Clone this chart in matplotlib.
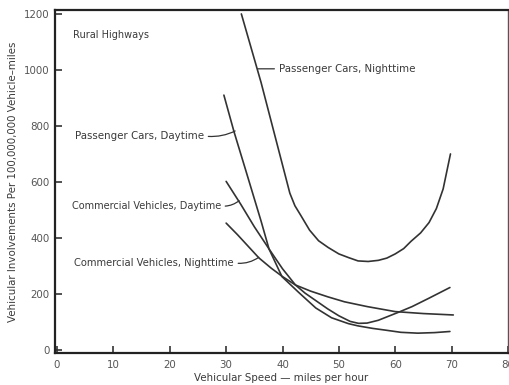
import matplotlib
matplotlib.use("Agg")
import matplotlib.pyplot as plt

plt.rcParams['font.family'] = ['DejaVu Sans']

# Vehicular involvement rate (per 100,000,000 vehicle-miles) vs travel speed (mph)
pn_speed = [32.7, 36.2, 41.3, 42.2, 43.2, 44.8, 46.4, 48.1, 50.0, 51.7, 53.4, 55.2,
            57.0, 58.5, 60.0, 61.5, 62.8, 64.5, 66.0, 67.3, 68.5, 69.8]
pn_rate = [1200, 955, 560, 515, 482, 428, 390, 366, 343, 330, 318, 316,
           320, 328, 343, 362, 388, 418, 455, 505, 575, 700]

pd_speed = [29.6, 31.4, 33.5, 36.2, 37.6, 39.9, 42.9, 45.9, 48.7, 51.7, 53.4, 56.0,
            58.2, 61.0, 64.0, 67.0, 69.7]
pd_rate = [910, 779, 640, 460, 361, 262, 205, 150, 115, 94, 86, 77,
           71, 63, 60, 62, 66]

cd_speed = [30.0, 32.6, 35.0, 37.6, 40.0, 42.3, 44.0, 46.0, 48.0, 50.0, 52.0, 53.5,
            55.0, 57.0, 60.5, 63.0, 66.0, 69.7]
cd_rate = [602, 520, 440, 361, 290, 232, 203, 175, 147, 122, 102, 95,
           96, 106, 134, 155, 185, 223]

cn_speed = [30.0, 32.0, 35.8, 38.0, 40.0, 42.3, 45.0, 48.0, 51.0, 55.0, 60.0, 65.0, 70.3]
cn_rate = [453, 412, 329, 292, 262, 232, 210, 190, 172, 155, 137, 130, 125]

x_ticks = [0, 10, 20, 30, 40, 50, 60, 70, 80]
y_ticks = [0, 200, 400, 600, 800, 1000, 1200]

ink = '#333333'
txt = '#3a3a3a'
fs = 7.4

fig = plt.figure(figsize=(5.10, 3.85), dpi=100)
ax = fig.add_axes([0.108, 0.083, 0.888, 0.891])

for sx, sy in [(pn_speed, pn_rate), (pd_speed, pd_rate),
               (cd_speed, cd_rate), (cn_speed, cn_rate)]:
    ax.plot(sx, sy, color=ink, lw=1.2, solid_capstyle='round', solid_joinstyle='round')

ax.set_xlim(-0.35, 79.5)
ax.set_ylim(-11, 1214)
ax.set_xticks(x_ticks)
ax.set_yticks(y_ticks)
ax.set_xticklabels([str(v) for v in x_ticks], fontsize=fs, color='#555555')
ax.set_yticklabels([str(v) for v in y_ticks], fontsize=fs, color='#555555')
ax.tick_params(direction='in', length=5, width=1.2, color=ink, pad=4)
ax.tick_params(axis='x', pad=5)

for side in ['left', 'bottom', 'top']:
    ax.spines[side].set_linewidth(1.6)
    ax.spines[side].set_color('#222222')
ax.spines['right'].set_linewidth(1.0)
ax.spines['right'].set_color('#555555')

ax.set_xlabel('Vehicular Speed \u2014 miles per hour', fontsize=fs, color=txt, labelpad=2)
ax.set_ylabel('Vehicular Involvements Per 100,000,000 Vehicle\u2013miles',
              fontsize=fs, color=txt, labelpad=4)

ax.text(2.8, 1125, 'Rural Highways', fontsize=7, color=txt, ha='left', va='center')

lead = dict(arrowstyle='-', color=ink, lw=0.9, shrinkA=1, shrinkB=0, relpos=(1.0, 0.5))
ax.annotate('Passenger Cars, Daytime', xy=(31.6, 782), xytext=(26.1, 764),
            fontsize=fs, color=txt, ha='right', va='center',
            arrowprops=dict(lead, connectionstyle='arc3,rad=0.15'))
ax.annotate('Commercial Vehicles, Daytime', xy=(32.3, 533), xytext=(29.1, 514),
            fontsize=7.0, color=txt, ha='right', va='center',
            arrowprops=dict(lead, connectionstyle='arc3,rad=0.2'))
ax.annotate('Commercial Vehicles, Nighttime', xy=(35.8, 331), xytext=(31.4, 311),
            fontsize=7.2, color=txt, ha='right', va='center',
            arrowprops=dict(lead, connectionstyle='arc3,rad=0.2'))
ax.annotate('Passenger Cars, Nighttime', xy=(35.6, 1004), xytext=(39.3, 1004),
            fontsize=fs, color=txt, ha='left', va='center',
            arrowprops=dict(lead, relpos=(0.0, 0.5)))

fig.savefig('out.png', dpi=100)
